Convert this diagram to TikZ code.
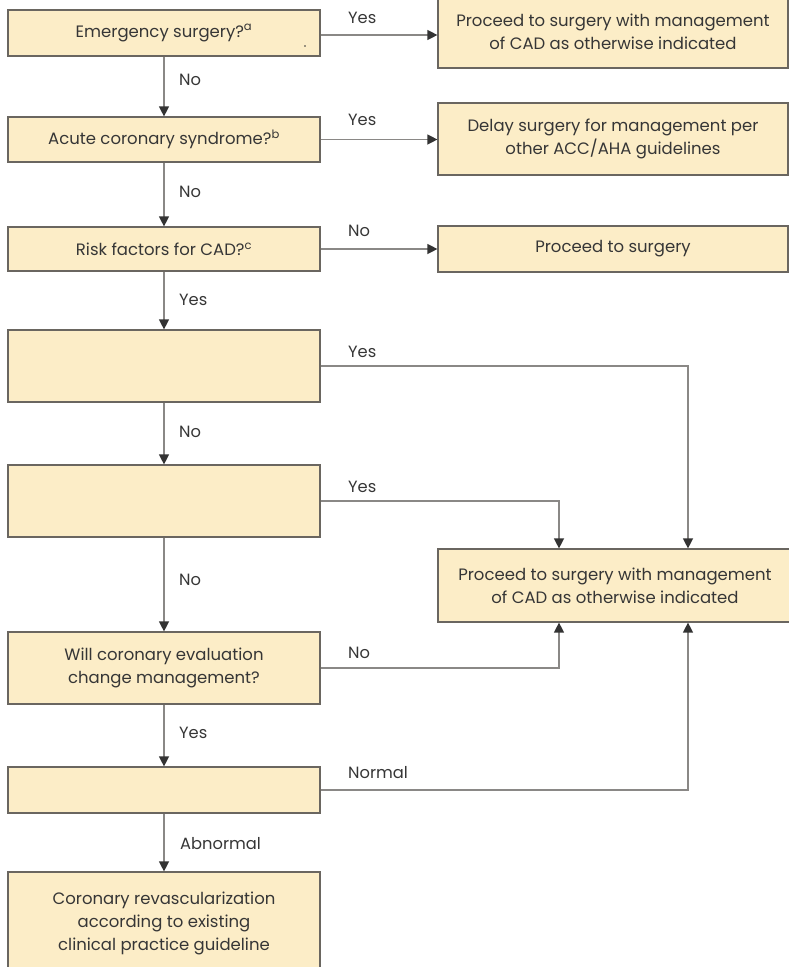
\documentclass[tikz,border=0pt]{standalone}
\usepackage{fontspec}
\setmainfont{Poppins}
\usetikzlibrary{arrows.meta}
\definecolor{boxfill}{HTML}{FCEDC7}
\definecolor{boxline}{HTML}{6A6660}
\definecolor{conline}{HTML}{8A8886}
\definecolor{tipcol}{HTML}{333333}
\definecolor{txt}{HTML}{363636}
\tikzset{
  box/.style={draw=boxline, fill=boxfill, line width=1.2pt, text=txt, align=center, inner sep=0pt, font=\fontsize{16.5}{22.8}\selectfont},
  conn/.style={draw=conline, line width=1.3pt, -{Triangle[length=10pt,width=10pt,color=tipcol]}},
  lbl/.style={anchor=west, text=txt, inner sep=0pt, font=\fontsize{16.3}{20}\selectfont}
}
\begin{document}
\begin{tikzpicture}[x=1pt,y=-1pt]
\useasboundingbox (0,0) rectangle (789,967);
% left column
\node[box, minimum width=312pt, minimum height=46pt] (b1) at (164,33) {Emergency surgery?\textsuperscript{a}};
\node[box, minimum width=312pt, minimum height=45pt] (b2) at (164,139.5) {Acute coronary syndrome?\textsuperscript{b}};
\node[box, minimum width=312pt, minimum height=44pt] (b3) at (164,249) {Risk factors for CAD?\textsuperscript{c}};
\node[box, minimum width=312pt, minimum height=72pt] (b4) at (164,366) {};
\node[box, minimum width=312pt, minimum height=72pt] (b5) at (164,501) {};
\node[box, minimum width=312pt, minimum height=72pt] (b6) at (164,668) {Will coronary evaluation\\change management?};
\node[box, minimum width=312pt, minimum height=46pt] (b7) at (164,790) {};
\node[box, minimum width=312pt, minimum height=103pt] (b8) at (164,923.5) {Coronary revascularization\\according to existing\\clinical practice guideline};
% right column
\node[box, minimum width=350pt, minimum height=73pt] (r1) at (613,31.5) {Proceed to surgery with management\\of CAD as otherwise indicated};
\node[box, minimum width=350pt, minimum height=72pt] (r2) at (613,139) {Delay surgery for management per\\other ACC/AHA guidelines};
\node[box, minimum width=350pt, minimum height=46pt] (r3) at (613,249) {Proceed to surgery};
\node[box, minimum width=354pt, minimum height=73pt] (r4) at (615,585.5) {Proceed to surgery with management\\of CAD as otherwise indicated};
% stray dot
\fill[txt] (305,46) circle (0.9pt);
% vertical connectors
\draw[conn] (b1) -- (b2);
\draw[conn] (b2) -- (b3);
\draw[conn] (b3) -- (b4);
\draw[conn] (b4) -- (b5);
\draw[conn] (b5) -- (b6);
\draw[conn] (b6) -- (b7);
\draw[conn] (b7) -- (b8);
% horizontal connectors
\draw[conn] ([yshift=-2pt]b1.east) -- ([yshift=-2pt]b1.east -| r1.west);
\draw[conn] (b2.east) -- (b2.east -| r2.west);
\draw[conn] (b3.east) -- (b3.east -| r3.west);
\coordinate (r4nr) at ([xshift=73pt]r4.north);
\coordinate (r4nl) at ([xshift=-56pt]r4.north);
\coordinate (r4sr) at ([xshift=73pt]r4.south);
\coordinate (r4sl) at ([xshift=-56pt]r4.south);
\draw[conn] (b4.east) -| (r4nr);
\draw[conn] (b5.east) -| (r4nl);
\draw[conn] (b6.east) -| (r4sl);
\draw[conn] (b7.east) -| (r4sr);
% labels
\node[lbl] (l1) at (348,18) {Yes};
\node[lbl] (l2) at (348,120) {Yes};
\node[lbl] (l3) at (348,231) {No};
\node[lbl] (l4) at (348,352) {Yes};
\node[lbl] (l5) at (348,487) {Yes};
\node[lbl] (l6) at (348,653) {No};
\node[lbl] (l7) at (348,773) {Normal};
\node[lbl] (v1) at (179,80) {No};
\node[lbl] (v2) at (179,192) {No};
\node[lbl] (v3) at (179,300) {Yes};
\node[lbl] (v4) at (179,432) {No};
\node[lbl] (v5) at (179,580) {No};
\node[lbl] (v6) at (179,733) {Yes};
\node[lbl] (v7) at (180,844) {Abnormal};
\end{tikzpicture}
\end{document}
